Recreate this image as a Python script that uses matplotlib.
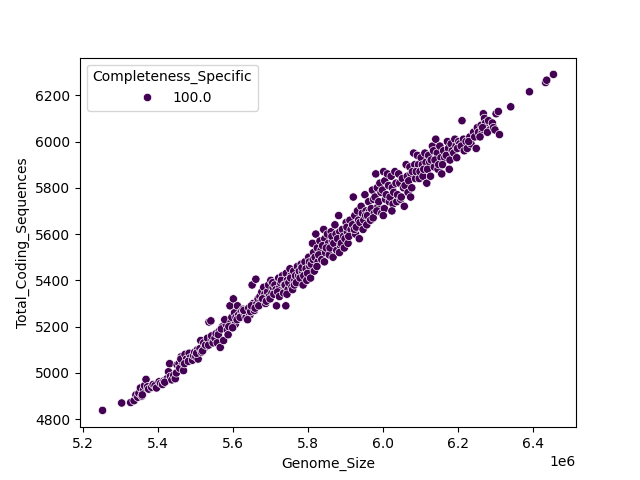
import numpy as np
import pandas as pd
import matplotlib
matplotlib.use("Agg")
import matplotlib.pyplot as plt
import seaborn as sns

# (genome size in Mb, Total_Coding_Sequences)
points = [
    (5.252, 4838), (5.303, 4870), (5.327, 4872), (5.336, 4880),
    (5.341, 4905), (5.346, 4895), (5.349, 4912), (5.353, 4935), (5.357, 4900),
    (5.361, 4925), (5.364, 4945), (5.358, 4905), (5.368, 4972), (5.372, 4940),
    (5.375, 4930), (5.383, 4938), (5.387, 4950), (5.392, 4945), (5.396, 4935),
    (5.403, 4962), (5.407, 4955), (5.412, 4950), (5.416, 4966), (5.421, 4965),
    (5.424, 4975), (5.418, 4960), (5.428, 5005), (5.433, 4985), (5.431, 5040),
    (5.437, 4970), (5.442, 4990), (5.446, 4975), (5.451, 5035), (5.456, 5040),
    (5.449, 5000), (5.458, 5020), (5.462, 5070), (5.466, 5045), (5.461, 5060),
    (5.468, 5010), (5.472, 5080), (5.476, 5060), (5.471, 5040), (5.483, 5085),
    (5.486, 5065), (5.481, 5050), (5.492, 5055), (5.495, 5075), (5.498, 5090),
    (5.501, 5070), (5.505, 5100), (5.507, 5060), (5.503, 5085), (5.512, 5105),
    (5.516, 5090), (5.514, 5140), (5.522, 5130), (5.525, 5110), (5.519, 5095),
    (5.527, 5120), (5.532, 5150), (5.535, 5120), (5.536, 5220), (5.541, 5225),
    (5.544, 5145), (5.547, 5130), (5.543, 5160), (5.552, 5150), (5.555, 5170),
    (5.558, 5130), (5.563, 5180), (5.566, 5110), (5.561, 5165), (5.572, 5200),
    (5.575, 5140), (5.569, 5190), (5.582, 5210), (5.585, 5185), (5.578, 5230),
    (5.587, 5165), (5.592, 5290), (5.595, 5220), (5.589, 5200), (5.597, 5240),
    (5.601, 5320), (5.604, 5260), (5.606, 5210), (5.599, 5195), (5.608, 5240),
    (5.612, 5290), (5.615, 5250), (5.611, 5230), (5.622, 5265), (5.625, 5250),
    (5.619, 5240), (5.627, 5275), (5.632, 5255), (5.635, 5240), (5.629, 5270),
    (5.642, 5280), (5.645, 5250), (5.639, 5230), (5.647, 5265), (5.651, 5380),
    (5.654, 5300), (5.657, 5270), (5.649, 5290), (5.661, 5405), (5.664, 5300),
    (5.667, 5320), (5.659, 5280), (5.672, 5330), (5.675, 5310), (5.669, 5290),
    (5.677, 5350), (5.682, 5370), (5.685, 5340), (5.679, 5320), (5.687, 5300),
    (5.692, 5350), (5.695, 5380), (5.689, 5310), (5.697, 5330), (5.701, 5400),
    (5.704, 5345), (5.707, 5370), (5.699, 5320), (5.706, 5390), (5.712, 5380),
    (5.715, 5360), (5.709, 5340), (5.716, 5290), (5.722, 5410), (5.725, 5370),
    (5.719, 5350), (5.727, 5390), (5.724, 5330), (5.732, 5420), (5.735, 5345),
    (5.729, 5400), (5.737, 5380), (5.741, 5290), (5.742, 5430), (5.745, 5400),
    (5.739, 5380), (5.747, 5360), (5.744, 5340), (5.752, 5450), (5.755, 5420),
    (5.749, 5390), (5.757, 5370), (5.754, 5410), (5.762, 5440), (5.765, 5400),
    (5.759, 5360), (5.767, 5420), (5.764, 5380), (5.772, 5460), (5.775, 5420),
    (5.769, 5390), (5.777, 5440), (5.782, 5470), (5.785, 5440), (5.779, 5410),
    (5.787, 5380), (5.784, 5455), (5.792, 5480), (5.795, 5450), (5.789, 5420),
    (5.797, 5400), (5.802, 5500), (5.805, 5460), (5.799, 5430), (5.807, 5410),
    (5.804, 5480), (5.812, 5560), (5.815, 5520), (5.809, 5470), (5.817, 5440),
    (5.814, 5490), (5.821, 5600), (5.825, 5540), (5.819, 5500), (5.827, 5480),
    (5.824, 5460), (5.832, 5570), (5.835, 5530), (5.829, 5510), (5.837, 5490),
    (5.842, 5620), (5.845, 5580), (5.839, 5550), (5.847, 5520), (5.844, 5480),
    (5.852, 5600), (5.855, 5560), (5.849, 5540), (5.857, 5510), (5.862, 5610),
    (5.865, 5570), (5.859, 5540), (5.867, 5500), (5.864, 5590), (5.872, 5640),
    (5.875, 5600), (5.869, 5560), (5.877, 5530), (5.882, 5680), (5.885, 5610),
    (5.879, 5580), (5.887, 5550), (5.884, 5520), (5.892, 5620), (5.895, 5590),
    (5.889, 5560), (5.897, 5540), (5.902, 5650), (5.905, 5610), (5.899, 5580),
    (5.907, 5560), (5.904, 5630), (5.912, 5660), (5.915, 5620), (5.909, 5590),
    (5.921, 5760), (5.925, 5680), (5.919, 5640), (5.927, 5600), (5.924, 5620),
    (5.932, 5700), (5.935, 5660), (5.929, 5630), (5.937, 5580), (5.942, 5720),
    (5.945, 5690), (5.939, 5650), (5.947, 5620), (5.952, 5770), (5.955, 5700),
    (5.949, 5660), (5.957, 5640), (5.954, 5680), (5.962, 5740), (5.965, 5700),
    (5.959, 5680), (5.967, 5660), (5.972, 5790), (5.975, 5750), (5.969, 5710),
    (5.977, 5690), (5.974, 5670), (5.981, 5860), (5.985, 5800), (5.979, 5760),
    (5.987, 5720), (5.984, 5700), (5.992, 5820), (5.995, 5780), (5.989, 5740),
    (5.997, 5690), (6.002, 5870), (6.005, 5830), (5.999, 5790), (6.007, 5750),
    (6.004, 5710), (6.001, 5680), (6.012, 5860), (6.015, 5810), (6.009, 5770),
    (6.017, 5740), (6.022, 5850), (6.025, 5800), (6.019, 5760), (6.027, 5730),
    (6.024, 5700), (6.032, 5870), (6.035, 5820), (6.029, 5780), (6.037, 5740),
    (6.042, 5860), (6.045, 5820), (6.039, 5770), (6.047, 5750), (6.052, 5840),
    (6.055, 5800), (6.049, 5760), (6.057, 5720), (6.062, 5900), (6.065, 5850),
    (6.059, 5810), (6.067, 5780), (6.072, 5890), (6.075, 5860), (6.069, 5830),
    (6.077, 5800), (6.074, 5760), (6.082, 5950), (6.085, 5900), (6.079, 5870),
    (6.087, 5840), (6.092, 5940), (6.095, 5900), (6.089, 5870), (6.097, 5840),
    (6.102, 5930), (6.105, 5900), (6.099, 5870), (6.107, 5850), (6.112, 5950),
    (6.115, 5910), (6.109, 5880), (6.117, 5820), (6.122, 5940), (6.125, 5910),
    (6.119, 5880), (6.127, 5850), (6.132, 5980), (6.135, 5960), (6.129, 5920),
    (6.137, 5890), (6.141, 6010), (6.145, 5950), (6.139, 5920), (6.147, 5880),
    (6.152, 5980), (6.155, 5930), (6.149, 5900), (6.157, 5860), (6.162, 5960),
    (6.165, 5930), (6.159, 5900), (6.172, 6000), (6.175, 5970), (6.169, 5940),
    (6.177, 5880), (6.182, 5990), (6.185, 5960), (6.179, 5920), (6.192, 6010),
    (6.195, 5980), (6.189, 5950), (6.197, 5930), (6.202, 6000), (6.205, 5990),
    (6.199, 5970), (6.211, 6090), (6.215, 6010), (6.209, 5980), (6.217, 5960),
    (6.222, 6000), (6.225, 5970), (6.232, 6020), (6.235, 5990), (6.229, 6000),
    (6.242, 6040), (6.245, 6020), (6.252, 6060), (6.255, 6040), (6.249, 5970),
    (6.262, 6070), (6.265, 6040), (6.259, 6020), (6.268, 6120), (6.271, 6100),
    (6.274, 6080), (6.266, 6060), (6.282, 6090), (6.285, 6050), (6.279, 6040),
    (6.292, 6080), (6.295, 6060), (6.302, 6120), (6.299, 6050), (6.308, 6130),
    (6.311, 6030), (6.341, 6150), (6.391, 6215), (6.434, 6255), (6.437, 6265),
    (6.455, 6290),
]

genome_size = [p[0] * 1e6 for p in points]
total_cds = [p[1] for p in points]
completeness = [100.0] * len(points)

df = pd.DataFrame({
    "Genome_Size": genome_size,
    "Total_Coding_Sequences": total_cds,
    "Completeness_Specific": completeness,
})

fig, ax = plt.subplots(figsize=(6.4, 4.8), dpi=100)
sns.scatterplot(data=df, x="Genome_Size", y="Total_Coding_Sequences",
                hue="Completeness_Specific", palette="viridis", ax=ax)

plt.savefig("out.png")
